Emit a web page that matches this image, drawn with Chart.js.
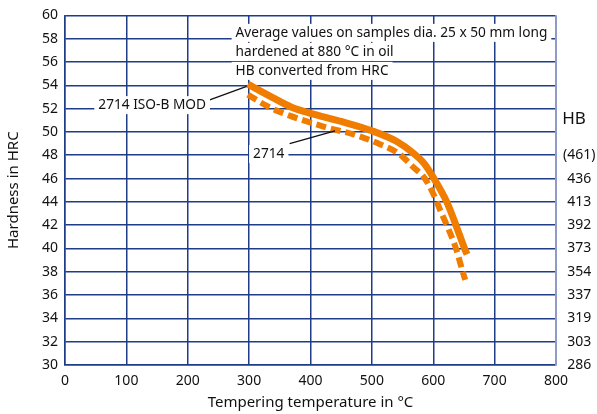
<!DOCTYPE html>
<html>
<head>
<meta charset="utf-8">
<script src="https://cdn.jsdelivr.net/npm/chart.js@4.4.0/dist/chart.umd.min.js"></script>
<style>
  html, body { margin: 0; padding: 0; background: #fff; }
  #wrap { width: 597px; height: 414px; position: relative; }
</style>
</head>
<body>
<div id="wrap"><canvas id="myChart"></canvas></div>
<script>
// tempering temperature (°C) and hardness (HRC)
const isoBModTemp = [298, 340, 370, 400, 450, 500, 540, 567, 585, 600, 622, 637, 651, 655];
const isoBModHrc  = [54.1, 52.9, 52.1, 51.6, 50.9, 50.1, 49.2, 48.2, 47.3, 46.1, 44.0, 42.0, 40.0, 39.5];

const std2714Temp = [298, 330, 366, 432, 470, 513, 545, 567, 585, 600, 612, 622, 637, 648, 652];
const std2714Hrc  = [53.2, 52.2, 51.4, 50.3, 49.8, 48.95, 48.1, 47.0, 46.1, 44.7, 43.2, 42.0, 40.0, 38.0, 37.3];

// HB values shown on the right for HRC 48 .. 30
const hbHrc    = [48, 46, 44, 42, 40, 38, 36, 34, 32, 30];
const hbLabels = ["(461)", "436", "413", "392", "373", "354", "337", "319", "303", "286"];

const noteLines = [
    "Average values on samples dia. 25 x 50 mm long",
    "hardened at 880 °C in oil",
    "HB converted from HRC"
];

const gridBlue = "#1f3c88";
const orange = "#f07d00";
const font = "'Noto Sans', sans-serif";

function toPoints(xs, ys) {
    return xs.map((x, i) => ({ x: x, y: ys[i] }));
}

// annotation texts, leader lines and HB heading
const notesPlugin = {
    id: "notes",
    afterDatasetsDraw(chart) {
        const c = chart.ctx;
        const xs = chart.scales.x, ys = chart.scales.y;
        const px = v => xs.getPixelForValue(v);
        const py = v => ys.getPixelForValue(v);
        c.save();
        c.font = "13.7px " + font;
        c.textBaseline = "middle";

        function label(text, cx, cy, align) {
            const w = c.measureText(text).width;
            const left = align === "left" ? cx : cx - w / 2;
            c.fillStyle = "#fff";
            c.fillRect(left - 4, cy - 9, w + 8, 18);
            c.fillStyle = "#111";
            c.textAlign = "left";
            c.fillText(text, left, cy);
        }

        // note box
        noteLines.forEach((t, i) => {
            label(t, px(278), py(58.5) + i * 19, "left");
        });

        // leader lines
        c.strokeStyle = "#111";
        c.lineWidth = 1.3;
        c.beginPath();
        c.moveTo(px(228), py(52.6));
        c.lineTo(px(296), py(53.9));
        c.moveTo(px(366), py(49.0));
        c.lineTo(px(440), py(50.1));
        c.stroke();

        label("2714 ISO-B MOD", px(142), py(52.3), "center");
        label("2714", px(332), py(48.1), "center");

        c.fillStyle = "#111";
        c.font = "17px " + font;
        c.textAlign = "center";
        c.fillText("HB", 574, 119);
        c.restore();
    }
};

new Chart(document.getElementById("myChart"), {
    type: "line",
    data: {
        datasets: [
            {
                label: "2714 ISO-B MOD",
                data: toPoints(isoBModTemp, isoBModHrc),
                borderColor: orange,
                borderWidth: 7,
                pointRadius: 0,
                cubicInterpolationMode: "monotone",
                borderCapStyle: "butt"
            },
            {
                label: "2714",
                data: toPoints(std2714Temp, std2714Hrc),
                borderColor: orange,
                borderWidth: 6,
                borderDash: [10, 5],
                pointRadius: 0,
                cubicInterpolationMode: "monotone",
                borderCapStyle: "butt"
            }
        ]
    },
    options: {
        responsive: true,
        maintainAspectRatio: false,
        animation: false,
        layout: { padding: { top: 14, left: 0, right: 0, bottom: 0 } },
        plugins: {
            legend: { display: false },
            tooltip: { enabled: false }
        },
        scales: {
            x: {
                type: "linear",
                min: 0, max: 800,
                ticks: { stepSize: 100, color: "#111", font: { family: font, size: 14 }, padding: 8 },
                grid: { color: gridBlue, lineWidth: 1.5, drawTicks: false },
                border: { color: gridBlue, width: 1.5 },
                title: { display: true, text: "Tempering temperature in °C", color: "#111",
                         font: { family: font, size: 15 }, padding: { top: 0, bottom: 2 } },
                afterFit(s) { s.height = 49; }
            },
            y: {
                min: 30, max: 60,
                ticks: { stepSize: 2, color: "#111", font: { family: font, size: 14 }, padding: 7 },
                grid: { color: gridBlue, lineWidth: 1.5, drawTicks: false },
                border: { color: gridBlue, width: 1.5 },
                title: { display: true, text: "Hardness in HRC", color: "#111",
                         font: { family: font, size: 15 }, padding: { top: 5, bottom: 0 } },
                afterFit(s) { s.width = 65; }
            },
            y2: {
                position: "right",
                min: 30, max: 60,
                ticks: {
                    stepSize: 2, color: "#111", font: { family: font, size: 14 }, padding: 7,
                    crossAlign: "center",
                    callback: v => {
                        const i = hbHrc.indexOf(v);
                        return i >= 0 ? hbLabels[i] : "";
                    }
                },
                grid: { display: false, drawTicks: false },
                border: { color: "#8c9cc8", width: 1.5 },
                afterFit(s) { s.width = 41; }
            }
        }
    },
    plugins: [notesPlugin]
});
</script>
</body>
</html>
